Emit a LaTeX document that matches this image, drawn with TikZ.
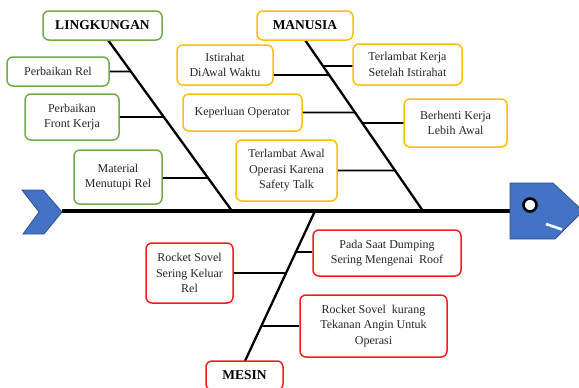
\documentclass[tikz,border=0pt]{standalone}
\usepackage{fontspec}
\setmainfont{Liberation Serif}
\usetikzlibrary{calc}
\definecolor{cgreen}{HTML}{70AD47}
\definecolor{corange}{HTML}{FFC000}
\definecolor{cred}{HTML}{FF1A1A}
\definecolor{cblue}{HTML}{4472C4}
\definecolor{cblueborder}{HTML}{2F528F}
\definecolor{ctext}{HTML}{262626}
\tikzset{
  cause/.style={draw, line width=1.5pt, rounded corners=6pt, fill=white, align=center,
    inner sep=0pt, text=ctext, font=\fontsize{12}{15.5}\selectfont},
  title/.style={cause, font=\fontsize{13.5}{16}\selectfont\bfseries, text=black},
  gbox/.style={draw=cgreen},
  obox/.style={draw=corange},
  rbox/.style={draw=cred},
  bone/.style={line width=2.3pt, black},
  twig/.style={line width=1.8pt, black},
  spine/.style={line width=3.5pt, black},
}
\begin{document}
\begin{tikzpicture}[x=1pt,y=-1pt]
\useasboundingbox (0,0) rectangle (579,388);
% coordinates
\coordinate (tail) at (62,211);
\coordinate (headl) at (510,211);
\coordinate (Ltop) at (108,40);
\coordinate (Lbot) at (232,211);
\coordinate (Mtop) at (305,40);
\coordinate (Mbot) at (423,211);
\coordinate (Stop) at (315,211);
\coordinate (Sbot) at (245,361);
% spine and bones
\draw[spine] (tail) -- (headl);
\draw[bone] (Ltop) -- (Lbot);
\draw[bone] (Mtop) -- (Mbot);
\draw[bone] (Stop) -- (Sbot);
% tail chevron
\fill[cblue, draw=cblueborder, line width=0.8pt] (22,190) -- (43,190) -- (62,212) -- (44,234) -- (23,234) -- (39,212) -- cycle;
% head
\fill[cblue, draw=cblueborder, line width=0.8pt] (510,183) -- (553,183) -- (583,211) -- (555,239) -- (510,239) -- cycle;
\draw[line width=2.6pt, black, fill=white] (530,205) circle (6.5);
\draw[line width=2.6pt, white] (546,224) -- (562,229.5);
% titles
\node[title, gbox, minimum width=119, minimum height=29] (L) at (102.5,25.5) {LINGKUNGAN};
\node[title, obox, minimum width=96, minimum height=29] (M) at (305,25.5) {MANUSIA};
\node[title, rbox, minimum width=77, minimum height=29] (S) at (244.5,375.5) {MESIN};
% causes: lingkungan
\node[cause, gbox, minimum width=102, minimum height=29] (PR) at (58,71.5) {Perbaikan Rel};
\node[cause, gbox, minimum width=94, minimum height=46] (FK) at (72,117) {Perbaikan\\Front Kerja};
\node[cause, gbox, minimum width=88, minimum height=54] (MR) at (118,177) {Material\\Menutupi Rel};
% causes: manusia
\node[cause, obox, minimum width=96, minimum height=40] (IW) at (225,65) {Istirahat\\DiAwal Waktu};
\node[cause, obox, minimum width=109, minimum height=41] (TK) at (407.5,64.5) {Terlambat Kerja\\Setelah Istirahat};
\node[cause, obox, minimum width=119, minimum height=37] (KO) at (242.5,112.5) {Keperluan Operator};
\node[cause, obox, minimum width=103, minimum height=48] (BK) at (455.5,123) {Berhenti Kerja\\Lebih Awal};
\node[cause, obox, minimum width=101, minimum height=61] (TA) at (286.5,170.5) {Terlambat Awal\\Operasi Karena\\Safety Talk};
% causes: mesin
\node[cause, rbox, minimum width=87, minimum height=60] (RK) at (189.5,273) {Rocket Sovel\\Sering Keluar\\Rel};
\node[cause, rbox, minimum width=148, minimum height=46] (PS) at (387,253) {Pada Saat Dumping\\Sering Mengenai~ Roof};
\node[cause, rbox, minimum width=147, minimum height=62] (RS) at (373.5,326) {Rocket Sovel~ kurang\\Tekanan Angin Untuk\\Operasi};
% twigs
\draw[twig] (PR.east) -- (intersection cs: first line={(Ltop)--(Lbot)}, second line={(PR.east)--($(PR.east)+(10,0)$)});
\draw[twig] (FK.east) -- (intersection cs: first line={(Ltop)--(Lbot)}, second line={(FK.east)--($(FK.east)+(10,0)$)});
\draw[twig] ($(MR.east)+(0,1)$) -- (intersection cs: first line={(Ltop)--(Lbot)}, second line={($(MR.east)+(0,1)$)--($(MR.east)+(10,1)$)});
\draw[twig] ($(IW.east)+(0,10)$) -- (intersection cs: first line={(Mtop)--(Mbot)}, second line={($(IW.east)+(0,10)$)--($(IW.east)+(10,10)$)});
\draw[twig] ($(TK.west)+(0,1.5)$) -- (intersection cs: first line={(Mtop)--(Mbot)}, second line={($(TK.west)+(0,1.5)$)--($(TK.west)+(10,1.5)$)});
\draw[twig] (KO.east) -- (intersection cs: first line={(Mtop)--(Mbot)}, second line={(KO.east)--($(KO.east)+(10,0)$)});
\draw[twig] (BK.west) -- (intersection cs: first line={(Mtop)--(Mbot)}, second line={(BK.west)--($(BK.west)+(10,0)$)});
\draw[twig] (TA.east) -- (intersection cs: first line={(Mtop)--(Mbot)}, second line={(TA.east)--($(TA.east)+(10,0)$)});
\draw[twig] (RK.east) -- (intersection cs: first line={(Stop)--(Sbot)}, second line={(RK.east)--($(RK.east)+(10,0)$)});
\draw[twig] ($(PS.west)+(0,-1)$) -- (intersection cs: first line={(Stop)--(Sbot)}, second line={($(PS.west)+(0,-1)$)--($(PS.west)+(10,-1)$)});
\draw[twig] (RS.west) -- (intersection cs: first line={(Stop)--(Sbot)}, second line={(RS.west)--($(RS.west)+(10,0)$)});
\end{tikzpicture}
\end{document}
